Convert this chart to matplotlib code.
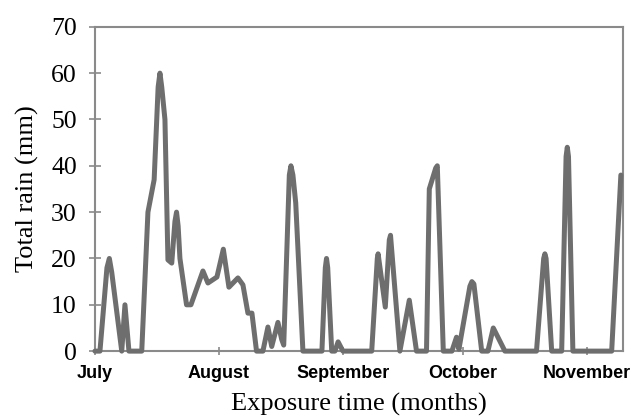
import numpy as np
import matplotlib
matplotlib.use("Agg")
import matplotlib.pyplot as plt

# Daily rain record, days counted from 1 July
days = [0, 1.25, 3.0, 3.6, 4.2, 6.7, 7.5, 8.5, 11.7, 13.25, 14.8, 15.8,
        16.25, 16.7, 17.5, 18.25, 19.2, 20.0, 20.4, 20.8, 21.25, 22.9, 24.0,
        27.0, 28.25, 30.5, 32.1, 33.5, 35.75, 37.0, 38.25, 39.25, 40.4, 42.0,
        43.25, 44.2, 45.75, 46.7, 47.2, 48.6, 49.0, 49.5, 50.2, 52.0, 56.75,
        57.6, 57.9, 58.2, 59.2, 60.0, 60.8, 62.0, 69.2, 70.6, 70.8, 72.6,
        73.6, 73.9, 76.25, 78.6, 80.4, 82.9, 83.6, 85.2, 85.6, 87.1, 89.25,
        90.4, 91.0, 93.75, 94.25, 94.75, 96.7, 98.25, 99.6, 102.5, 110.4,
        112.2, 112.5, 112.8, 114.2, 116.7, 117.8, 118.1, 118.4, 119.5, 129.2,
        131.5]
rain = [0, 0, 18, 20, 17, 0, 10, 0, 0, 30, 37, 57,
        60, 57, 50, 19.7, 19, 28, 30, 27, 20, 10, 10,
        17.3, 14.7, 16, 22, 13.8, 15.8, 14.3, 8.2, 8.2, 0, 0,
        5.2, 1, 6.2, 2.5, 1.3, 38, 40, 38, 32, 0, 0,
        18, 20, 18, 0, 0, 2, 0, 0, 20, 21, 9.5,
        24, 25, 0, 11, 0, 0, 35, 39.5, 40, 0, 0,
        3, 0.4, 14, 15, 14.5, 0, 0, 5, 0, 0,
        20, 21, 20, 0, 0, 42, 44, 42, 0, 0,
        38]

month_pos = [0, 31, 62, 92, 123]
month_names = ["July", "August", "September", "October", "November"]
y_ticks = [0, 10, 20, 30, 40, 50, 60, 70]

serif = "Liberation Serif"
sans = "Liberation Sans"
spine_col = "#8a8a8a"

fig = plt.figure(figsize=(6.33, 4.19), dpi=100)
ax = fig.add_axes([0.150, 0.162, 0.834, 0.774])

ax.plot(days, rain, color="#6e6e6e", linewidth=3.6, solid_joinstyle="round",
        solid_capstyle="round", clip_on=False, zorder=3)

ax.set_xlim(0, 132)
ax.set_ylim(0, 70)

ax.set_yticks(y_ticks)
ax.set_yticklabels([str(v) for v in y_ticks], fontfamily=serif, fontsize=18.5)
ax.set_xticks(month_pos)
ax.set_xticklabels(month_names, fontfamily=sans, fontweight="bold", fontsize=13)

ax.tick_params(axis="y", direction="inout", length=8, width=1.2,
               color=spine_col, pad=9)
ax.tick_params(axis="x", direction="inout", length=6, width=1.2,
               color=spine_col, pad=7)

for side in ax.spines.values():
    side.set_color(spine_col)
    side.set_linewidth(1.5)

ax.set_ylabel("Total rain (mm)", fontfamily=serif, fontsize=19, labelpad=9)
ax.set_xlabel("Exposure time (months)", fontfamily=serif, fontsize=19,
              labelpad=8)

fig.savefig("out.png", dpi=100)
